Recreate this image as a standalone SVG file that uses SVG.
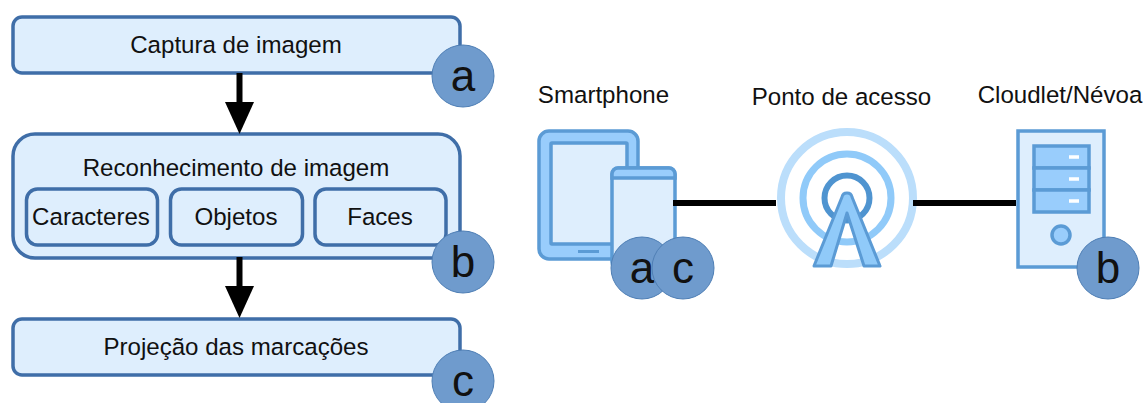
<svg xmlns="http://www.w3.org/2000/svg" width="1143" height="403" viewBox="0 0 1143 403">
<style>
text{font-family:"Liberation Sans",Arial,sans-serif;fill:#111;text-anchor:middle}
.t{font-size:24.100px}
.l{font-size:44px}
.box{fill:#deeefd;stroke:#3f6ea8;stroke-width:3.5}
.badge{fill:#6f9bcd;stroke:#4f7fb5;stroke-width:1}
.conn{stroke:#000;stroke-width:6;fill:none}
.pale{fill:#deeefd;stroke:#5b9bd5;stroke-width:3.5}
.mid{fill:#99cdfc;stroke:#5b9bd5;stroke-width:3.5}
</style>
<defs>
<g id="badge-a"><circle class="badge" r="31"/><text class="l" y="15">a</text></g>
<g id="badge-b"><circle class="badge" r="31"/><text class="l" y="15">b</text></g>
<g id="badge-c"><circle class="badge" r="31"/><text class="l" y="15">c</text></g>
</defs>
<rect width="1143" height="403" fill="#fff"/>
<g id="captura">
<rect class="box" x="13" y="17" width="447" height="56" rx="9"/>
<text class="t" x="236" y="53">Captura de imagem</text>
<use href="#badge-a" x="463" y="76"/>
</g>
<g id="reconhecimento">
<rect class="box" x="13" y="134" width="447" height="124" rx="22"/>
<text class="t" x="236" y="176">Reconhecimento de imagem</text>
<g id="caracteres"><rect class="box" x="26.500" y="189" width="131" height="56" rx="11"/><text class="t" x="91" y="225">Caracteres</text></g>
<g id="objetos"><rect class="box" x="170.500" y="189" width="132" height="56" rx="11"/><text class="t" x="236" y="225">Objetos</text></g>
<g id="faces"><rect class="box" x="315" y="189" width="131" height="56" rx="11"/><text class="t" x="380" y="225">Faces</text></g>
<use href="#badge-b" x="463" y="262"/>
</g>
<g id="projecao">
<rect class="box" x="13" y="319" width="447" height="56" rx="9"/>
<text class="t" x="236" y="355">Projeção das marcações</text>
<use href="#badge-c" x="463" y="381"/>
</g>
<g id="smartphone">
<text class="t" x="603.500" y="103">Smartphone</text>
<rect class="mid" x="539" y="131" width="99" height="128" rx="10"/>
<rect class="pale" x="551" y="143" width="76" height="101" rx="1"/>
<line x1="578" y1="251.500" x2="599" y2="251.500" stroke="#5b9bd5" stroke-width="3"/>
<rect class="pale" x="612" y="168" width="63" height="100" rx="6"/>
<path class="mid" d="M612 178V174a6 6 0 0 1 6-6h51a6 6 0 0 1 6 6v4z"/>
<use href="#badge-a" x="642" y="268"/>
<use href="#badge-c" x="683" y="268"/>
</g>
<g id="ponto-de-acesso" fill="none">
<text class="t" x="841.500" y="105">Ponto de acesso</text>
<circle cx="847" cy="198" r="66" stroke="#bbdefb" stroke-width="8"/>
<circle cx="847" cy="198" r="44" stroke="#90caf9" stroke-width="7"/>
<circle cx="847" cy="198" r="22.500" stroke="#4f94d0" stroke-width="6"/>
<path d="M847 193a5 5 0 0 1 5 4L880 266H864L847 213L831 266H814L842 197a5 5 0 0 1 5-4z" fill="#90caf9" stroke="#5b9bd5" stroke-width="3" stroke-linejoin="round"/>
</g>
<g id="cloudlet">
<text class="t" x="1060" y="103">Cloudlet/Névoa</text>
<rect class="pale" x="1018" y="131" width="86" height="136"/>
<rect class="mid" x="1034" y="146" width="55" height="22"/>
<rect class="mid" x="1034" y="168" width="55" height="22"/>
<rect class="mid" x="1034" y="190" width="55" height="22"/>
<path d="M1069 157h10M1069 179h10M1069 201h10" stroke="#fff" stroke-width="3.500"/>
<circle class="mid" cx="1061" cy="235" r="9"/>
<use href="#badge-b" x="1108" y="268"/>
</g>
<g id="connectors">
<line class="conn" x1="239.500" y1="73" x2="239.500" y2="104"/>
<polygon points="225,102 254,102 239.500,134" fill="#000"/>
<line class="conn" x1="239.500" y1="257" x2="239.500" y2="288"/>
<polygon points="225,286 254,286 239.500,318" fill="#000"/>
<line class="conn" x1="673" y1="203" x2="776" y2="203"/>
<line class="conn" x1="913" y1="203" x2="1016" y2="203"/>
</g>
</svg>
